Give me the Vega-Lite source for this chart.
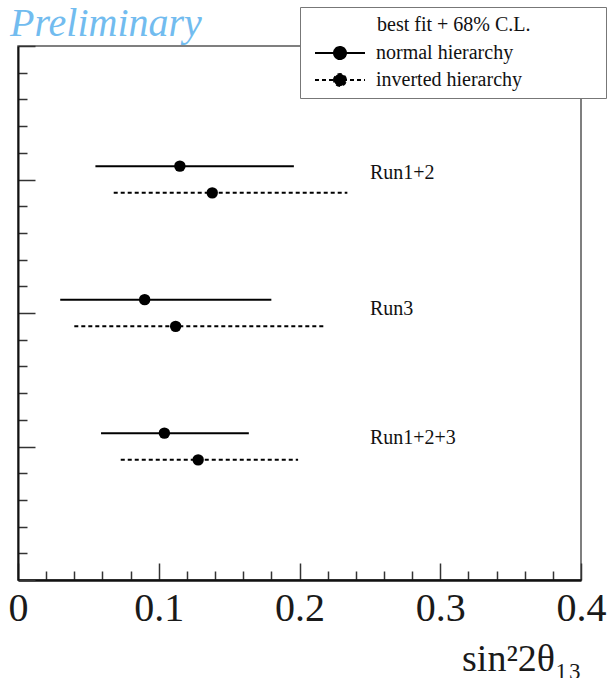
{
  "$schema": "https://vega.github.io/schema/vega-lite/v6.json",
  "width": 563,
  "height": 534,
  "autosize": {"type": "none"},
  "padding": {"left": 18, "top": 46, "right": 28, "bottom": 98},
  "background": "white",
  "title": {
    "text": "Preliminary",
    "anchor": "start",
    "font": "Liberation Serif",
    "fontStyle": "italic",
    "fontWeight": "normal",
    "fontSize": 40,
    "color": "#72bcef",
    "baseline": "alphabetic",
    "offset": -69,
    "dx": 2
  },
  "config": {
    "view": {"stroke": "#555", "strokeWidth": 1.5},
    "font": "Liberation Serif"
  },
  "datasets": {
    "fits": [
      {"run": "Run1+2", "hierarchy": "normal hierarchy", "pos": 3.1, "lo": 0.055, "best": 0.115, "hi": 0.196},
      {"run": "Run1+2", "hierarchy": "inverted hierarchy", "pos": 2.9, "lo": 0.068, "best": 0.138, "hi": 0.234},
      {"run": "Run3", "hierarchy": "normal hierarchy", "pos": 2.1, "lo": 0.030, "best": 0.090, "hi": 0.180},
      {"run": "Run3", "hierarchy": "inverted hierarchy", "pos": 1.9, "lo": 0.040, "best": 0.112, "hi": 0.218},
      {"run": "Run1+2+3", "hierarchy": "normal hierarchy", "pos": 1.1, "lo": 0.059, "best": 0.104, "hi": 0.164},
      {"run": "Run1+2+3", "hierarchy": "inverted hierarchy", "pos": 0.9, "lo": 0.073, "best": 0.128, "hi": 0.199}
    ],
    "labels": [
      {"run": "Run1+2", "lx": 0.25, "ly": 3.05},
      {"run": "Run3", "lx": 0.25, "ly": 2.03},
      {"run": "Run1+2+3", "lx": 0.25, "ly": 1.06}
    ]
  },
  "layer": [
    {
      "data": {"name": "fits"},
      "mark": {"type": "rule", "color": "black", "strokeWidth": 2},
      "encoding": {
        "x": {
          "field": "lo", "type": "quantitative",
          "scale": {"domain": [0, 0.4], "nice": false, "zero": false},
          "axis": {
            "orient": "bottom",
            "values": [0, 0.02, 0.04, 0.06, 0.08, 0.1, 0.12, 0.14, 0.16, 0.18, 0.2, 0.22, 0.24, 0.26, 0.28, 0.3, 0.32, 0.34, 0.36, 0.38, 0.4],
            "tickCount": 200,
            "labelExpr": "datum.value == 0 ? '0' : (abs(datum.value * 10 - round(datum.value * 10)) < 0.001 ? format(datum.value, '.1f') : '')",
            "labelOverlap": false,
            "labelFlush": false,
            "labelBound": false,
            "labelFont": "Liberation Serif",
            "labelFontSize": 40,
            "labelColor": "#1a1a1a",
            "labelPadding": 25,
            "tickSize": {"condition": {"test": "abs(datum.value * 10 - round(datum.value * 10)) < 0.001", "value": -17}, "value": -9},
            "tickColor": "#333",
            "tickWidth": 1.5,
            "domainColor": "#111",
            "domainWidth": 2.5,
            "grid": false,
            "title": "sin²2θ₁₃",
            "titleFont": "Liberation Serif",
            "titleFontSize": 38,
            "titleFontWeight": "normal",
            "titleColor": "#1a1a1a",
            "titleAnchor": "end",
            "titleAlign": "right",
            "titlePadding": 4
          }
        },
        "x2": {"field": "hi"},
        "y": {
          "field": "pos", "type": "quantitative",
          "scale": {"domain": [0, 4], "nice": false, "zero": false},
          "axis": {
            "orient": "left",
            "values": [0, 0.2, 0.4, 0.6, 0.8, 1, 1.2, 1.4, 1.6, 1.8, 2, 2.2, 2.4, 2.6, 2.8, 3, 3.2, 3.4, 3.6, 3.8, 4],
            "tickCount": 200,
            "labels": false,
            "tickSize": {"condition": {"test": "abs(datum.value - round(datum.value)) < 0.001", "value": -17}, "value": -9},
            "tickColor": "#333",
            "tickWidth": 1.5,
            "domainColor": "#111",
            "domainWidth": 2,
            "grid": false,
            "title": null
          }
        },
        "strokeDash": {
          "field": "hierarchy", "type": "nominal",
          "scale": {"domain": ["normal hierarchy", "inverted hierarchy"], "range": [[1, 0], [4, 3]]},
          "legend": {
            "orient": "none",
            "legendX": 282,
            "legendY": -39,
            "title": "best fit + 68% C.L.",
            "titleFont": "Liberation Serif",
            "titleFontSize": 20,
            "titleFontWeight": "normal",
            "titleColor": "#111",
            "titlePadding": 8,
            "labelFont": "Liberation Serif",
            "labelFontSize": 20,
            "labelColor": "#111",
            "labelExpr": "datum.label + '\u2800\u2800\u2800\u2800\u2800'",
            "labelLimit": 400,
            "labelOffset": 26,
            "symbolOffset": 22,
            "symbolType": "M-4.17,0H4.17M-1,0A1,1,0,1,1,1,0A1,1,0,1,1,-1,0Z",
            "symbolSize": 144,
            "symbolStrokeWidth": 2,
            "symbolStrokeColor": "black",
            "symbolFillColor": "black",
            "rowPadding": 7,
            "padding": 8,
            "strokeColor": "#777",
            "fillColor": "white",
            "encode": {
              "title": {"update": {"dx": {"value": 69}}},
              "symbols": {"update": {"fill": {"value": "black"}, "stroke": {"value": "black"}}}
            }
          }
        }
      }
    },
    {
      "data": {"name": "fits"},
      "mark": {"type": "point", "filled": true, "color": "black", "size": 130, "opacity": 1},
      "encoding": {
        "x": {"field": "best", "type": "quantitative"},
        "y": {"field": "pos", "type": "quantitative"}
      }
    },
    {
      "data": {"name": "labels"},
      "mark": {"type": "text", "align": "left", "baseline": "middle", "font": "Liberation Serif", "fontSize": 20, "color": "#111"},
      "encoding": {
        "x": {"field": "lx", "type": "quantitative"},
        "y": {"field": "ly", "type": "quantitative"},
        "text": {"field": "run"}
      }
    }
  ]
}
